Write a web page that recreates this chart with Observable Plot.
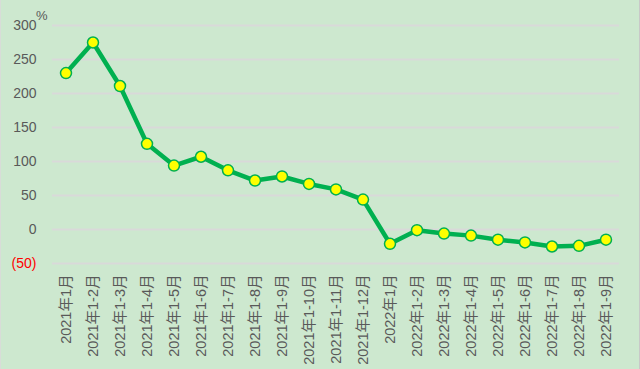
<!DOCTYPE html>
<html>
<head>
<meta charset="utf-8">
<script src="https://cdn.jsdelivr.net/npm/d3@7"></script>
<script src="https://cdn.jsdelivr.net/npm/@observablehq/plot@0.6"></script>
<style>
  html, body { margin: 0; padding: 0; background: #cde8cf; }
  #wrap { position: relative; width: 640px; height: 369px; background: #cde8cf; box-sizing: border-box; border-right: 1px solid #c8c8c8; border-left: 1px solid #d8dcd8; overflow: hidden; }
  #unit { position: absolute; left: 35px; top: 8px; font: 13px "Liberation Sans Narrow", "Liberation Sans", Arial, sans-serif; color: #595959; }
</style>
</head>
<body>
<div id="wrap"><div id="unit">%</div></div>
<script>
const categories = [
  "2021年1月", "2021年1-2月", "2021年1-3月", "2021年1-4月", "2021年1-5月", "2021年1-6月",
  "2021年1-7月", "2021年1-8月", "2021年1-9月", "2021年1-10月", "2021年1-11月", "2021年1-12月",
  "2022年1月", "2022年1-2月", "2022年1-3月", "2022年1-4月", "2022年1-5月", "2022年1-6月",
  "2022年1-7月", "2022年1-8月", "2022年1-9月"
];
const values = [230, 275, 211, 126, 94, 107, 87, 72, 78, 67, 59, 44, -21, -1, -6, -9, -15, -19, -25, -24, -15];
const yTicks = [0, 50, 100, 150, 200, 250, 300];
const yNegTicks = [-50];

const data = categories.map((c, i) => ({cat: c, val: values[i]}));
const font = '"Liberation Sans", Arial, "Noto Sans CJK SC", sans-serif';

const chart = Plot.plot({
  width: 638,
  height: 369,
  marginLeft: 51,
  marginRight: 20,
  marginTop: 25,
  marginBottom: 106,
  style: {background: "transparent", fontFamily: font, fontSize: "14px", color: "#595959", overflow: "visible"},
  x: {type: "band", domain: categories, padding: 0},
  y: {domain: [-50, 300]},
  marks: [
    Plot.gridY([...yNegTicks, ...yTicks], {stroke: "#d9d9d9", strokeOpacity: 1, strokeWidth: 2}),
    Plot.axisY(yTicks, {tickSize: 0, tickPadding: 16, fill: "#595959", fontSize: 14, label: null}),
    Plot.axisY(yNegTicks, {tickSize: 0, tickPadding: 16, fill: "#ff0000", fontSize: 14, label: null, tickFormat: d => `(${Math.abs(d)})`}),
    Plot.axisX({tickSize: 0, tickRotate: -90, tickPadding: 11, fill: "#595959", fontSize: 14.5, label: null}),
    Plot.line(data, {x: "cat", y: "val", stroke: "#00b050", strokeWidth: 4.5, curve: "linear"}),
    Plot.dot(data, {x: "cat", y: "val", r: 5.5, fill: "#ffff00", stroke: "#00b050", strokeWidth: 1.5})
  ]
});
document.getElementById("wrap").appendChild(chart);
</script>
</body>
</html>
